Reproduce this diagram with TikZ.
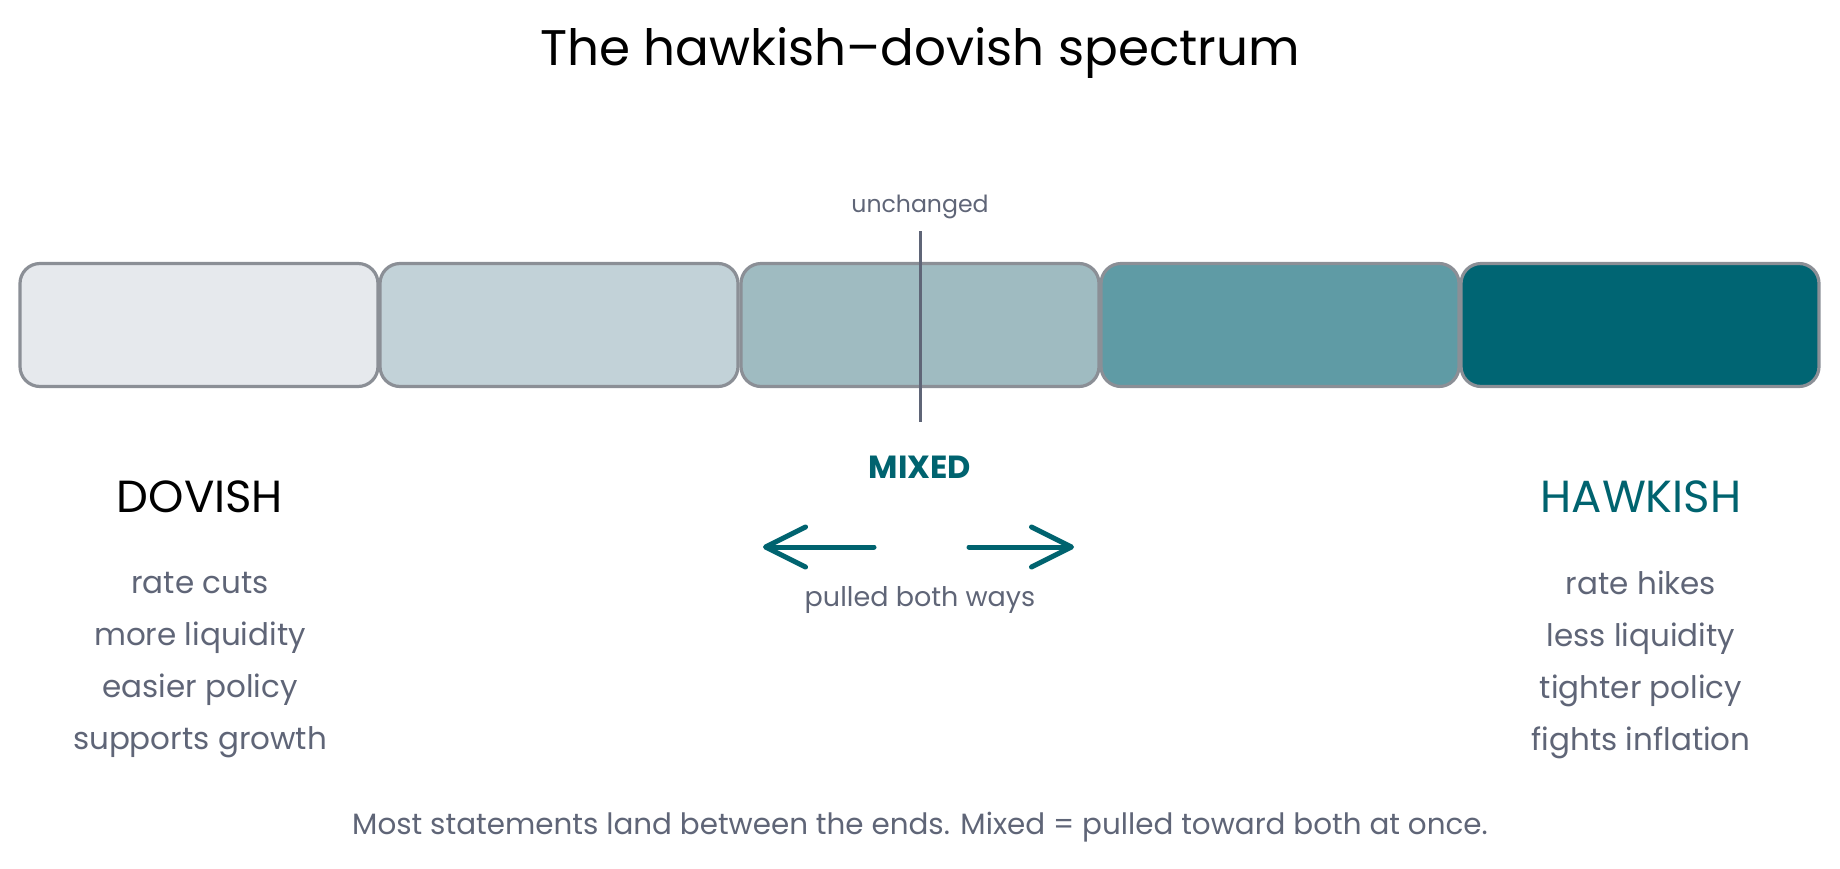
\documentclass[tikz,border=0pt]{standalone}
\usepackage{fontspec}
\setmainfont{Poppins}
\usetikzlibrary{arrows.meta,positioning}

\definecolor{inkgray}{HTML}{5F6577}
\definecolor{edgegray}{HTML}{8B8F96}
\definecolor{tealdark}{HTML}{00636F}
\definecolor{shadeA}{HTML}{E6E9ED}
\definecolor{shadeB}{HTML}{C2D2D8}
\definecolor{shadeC}{HTML}{9FBBC1}
\definecolor{shadeD}{HTML}{5F9BA5}
\definecolor{shadeE}{HTML}{006573}

\tikzset{
    band/.style={draw=edgegray, line width=1.6pt, rounded corners=10pt,
        minimum width=179pt, minimum height=61.5pt, inner sep=0pt},
    note/.style={text=inkgray, align=center, font=\fontsize{15.5}{26}\selectfont},
    endlabel/.style={font=\fontsize{22.5}{26}\selectfont},
    pull/.style={draw=tealdark, line width=2.5pt, line cap=round,
        -{Straight Barb[length=20pt,width=20pt,line width=2.5pt,round]}},
}

\begin{document}
\begin{tikzpicture}[x=0.5pt,y=-0.5pt]
    \useasboundingbox (0,0) rectangle (1840,868);
    \node (title) at (920,53) {\fontsize{25}{30}\selectfont The hawkish--dovish spectrum};

    % the five bands, light to dark
    \foreach \i/\x/\c in {1/199/shadeA, 2/559/shadeB, 3/920/shadeC, 4/1280/shadeD, 5/1640/shadeE}{
        \node[band, fill=\c] (b\i) at (\x,325) {};
    }

    % marker for no change
    \coordinate (ticktop) at (920,231);
    \coordinate (tickbot) at (920,422);
    \draw[inkgray, line width=1.5pt] (ticktop) -- (tickbot);
    \node[note, font=\fontsize{11.8}{14}\selectfont] (unch) at (920,207) {unchanged};

    % middle
    \node[text=tealdark, font=\fontsize{16}{18}\selectfont\bfseries] (mixed) at (920,467) {MIXED};
    \coordinate (lstart) at (874,547);
    \coordinate (lend) at (763,547);
    \coordinate (rstart) at (969,547);
    \coordinate (rend) at (1074,547);
    \draw[pull] (lstart) -- (lend);
    \draw[pull] (rstart) -- (rend);
    \node[note, font=\fontsize{13.5}{16}\selectfont] (both) at (920,600) {pulled both ways};

    % the two ends
    \node[endlabel] (dov) at (200,497) {DOVISH};
    \node[endlabel, text=tealdark] (hawk) at (1641,497) {HAWKISH};
    \node[note] (dovlist) at (200,665) {rate cuts\\more liquidity\\easier policy\\supports growth};
    \node[note] (hawklist) at (1641,665) {rate hikes\\less liquidity\\tighter policy\\fights inflation};

    \node[note, font=\fontsize{14.7}{17}\selectfont] (foot) at (920,827) {Most statements land between the ends. Mixed = pulled toward both at once.};
\end{tikzpicture}
\end{document}
